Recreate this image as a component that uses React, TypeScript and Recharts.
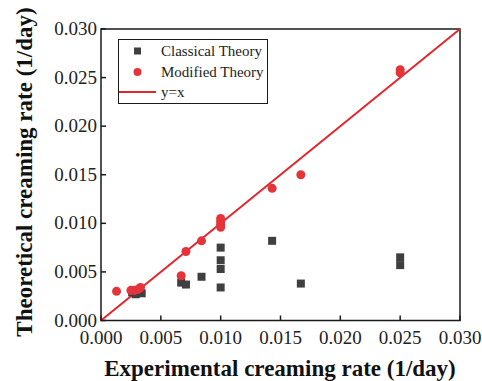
import {
  ScatterChart, Scatter, XAxis, YAxis, ReferenceLine, ReferenceArea,
} from 'recharts'

const SERIF = "'Liberation Serif', 'Times New Roman', serif"
const CLASSICAL_COLOR = '#3f3f3f'
const MODIFIED_COLOR = '#e4343a'
const LINE_COLOR = '#e3262c'
const FRAME_COLOR = '#1a1a1a'

// Experimental vs theoretical creaming rates (1/day)
const classicalExp = [0.0026, 0.0029, 0.0031, 0.0034, 0.0067, 0.0071, 0.0084, 0.0100, 0.0100, 0.0100, 0.0100, 0.0143, 0.0167, 0.0250, 0.0250]
const classicalTheo = [0.0029, 0.0027, 0.0029, 0.0028, 0.0039, 0.0037, 0.0045, 0.0075, 0.0062, 0.0053, 0.0034, 0.0082, 0.0038, 0.0065, 0.0057]

const modifiedExp = [0.0013, 0.0025, 0.0028, 0.0031, 0.0033, 0.0067, 0.0071, 0.0084, 0.0100, 0.0100, 0.0100, 0.0100, 0.0143, 0.0167, 0.0250, 0.0250]
const modifiedTheo = [0.0030, 0.0031, 0.0031, 0.0032, 0.0034, 0.0046, 0.0071, 0.0082, 0.0096, 0.0099, 0.0102, 0.0105, 0.0136, 0.0150, 0.0255, 0.0258]

const axisTicks = [0, 0.005, 0.01, 0.015, 0.02, 0.025, 0.03]
const legendLabels = ['Classical Theory', 'Modified Theory', 'y=x']

const classical = classicalExp.map((x, i) => ({ x, y: classicalTheo[i] }))
const modified = modifiedExp.map((x, i) => ({ x, y: modifiedTheo[i] }))

const fmt = (v: number) => v.toFixed(3)

// ticks point inward, labels sit outside the frame
function XTick({ x, y, payload }: any) {
  return (
    <g>
      <line x1={x} y1={y} x2={x} y2={y - 5} stroke={FRAME_COLOR} strokeWidth={1.5} />
      <text x={x} y={y + 23} textAnchor="middle" style={{ fontFamily: SERIF, fontSize: 19 }} fill="#222">
        {fmt(payload.value)}
      </text>
    </g>
  )
}

function YTick({ x, y, payload }: any) {
  return (
    <g>
      <line x1={x} y1={y} x2={x + 5} y2={y} stroke={FRAME_COLOR} strokeWidth={1.5} />
      <text x={x - 4} y={y + 6} textAnchor="end" style={{ fontFamily: SERIF, fontSize: 19 }} fill="#222">
        {fmt(payload.value)}
      </text>
    </g>
  )
}

function LegendBox() {
  return (
    <div
      style={{
        position: 'absolute', left: 118, top: 39,
        width: 150, height: 65, border: `1.5px solid ${FRAME_COLOR}`, background: '#fff',
        fontFamily: SERIF, fontSize: 15, color: '#222', boxSizing: 'border-box', paddingTop: 1,
        whiteSpace: 'nowrap',
      }}
    >
      {legendLabels.map((label, i) => (
        <div key={label} style={{ display: 'flex', alignItems: 'center', height: 20.5 }}>
          <svg width={42} height={20} style={{ flexShrink: 0 }}>
            {i === 0 && <rect x={15} y={6.5} width={7} height={7} fill={CLASSICAL_COLOR} />}
            {i === 1 && <circle cx={18.5} cy={10} r={4} fill={MODIFIED_COLOR} />}
            {i === 2 && <line x1={0} y1={10} x2={37} y2={10} stroke={LINE_COLOR} strokeWidth={2} />}
          </svg>
          <span style={{ lineHeight: '20px' }}>{label}</span>
        </div>
      ))}
    </div>
  )
}

export default function App() {
  return (
    <div style={{ position: 'absolute', left: 0, top: 0, width: 482, height: 381, background: '#fff' }}>
      <ScatterChart
        width={482}
        height={381}
        margin={{ top: 29, right: 22, bottom: 30.5, left: 41 }}
      >
        <XAxis
          type="number"
          dataKey="x"
          domain={[0, 0.03]}
          ticks={axisTicks}
          interval={0}
          height={30}
          tickSize={0}
          tickMargin={0}
          tickLine={false}
          axisLine={false}
          tick={<XTick />}
        />
        <YAxis
          type="number"
          dataKey="y"
          domain={[0, 0.03]}
          ticks={axisTicks}
          interval={0}
          width={60}
          tickSize={0}
          tickMargin={0}
          tickLine={false}
          axisLine={false}
          tick={<YTick />}
        />
        <ReferenceArea x1={0} x2={0.03} y1={0} y2={0.03} fill="none" stroke={FRAME_COLOR} strokeWidth={1.5} />
        <ReferenceLine
          segment={[{ x: 0, y: 0 }, { x: 0.03, y: 0.03 }]}
          stroke={LINE_COLOR}
          strokeWidth={2}
        />
        <Scatter name="Classical Theory" data={classical} fill={CLASSICAL_COLOR} shape="square" isAnimationActive={false} size={48} />
        <Scatter name="Modified Theory" data={modified} fill={MODIFIED_COLOR} shape="circle" isAnimationActive={false} size={52} />
        <text x={280} y={376} textAnchor="middle" style={{ fontFamily: SERIF, fontSize: 23, fontWeight: 'bold' }} fill="#111">
          Experimental creaming rate (1/day)
        </text>
        <text
          x={24}
          y={172}
          transform="rotate(-90 24 172)"
          textAnchor="middle"
          dominantBaseline="central"
          style={{ fontFamily: SERIF, fontSize: 23, fontWeight: 'bold' }}
          fill="#111"
        >
          Theoretical creaming rate (1/day)
        </text>
      </ScatterChart>
      <LegendBox />
    </div>
  )
}
